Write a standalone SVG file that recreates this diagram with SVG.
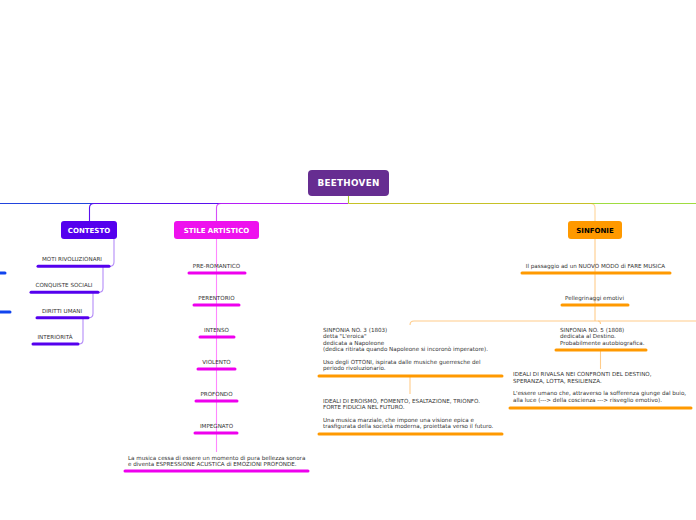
<svg xmlns="http://www.w3.org/2000/svg" width="696" height="520" viewBox="0 0 696 520">
<style>
.t{font-family:"DejaVu Sans",Verdana,sans-serif;font-size:5.6px;fill:#333}
.c{text-anchor:middle}
.h{font-family:"DejaVu Sans",Verdana,sans-serif;font-weight:bold;font-size:7px;text-anchor:middle}
.big{font-size:8.8px;letter-spacing:0.3px}
.ul{fill:none;stroke-width:3;stroke-linecap:round}
.v{stroke:#5500ee}.m{stroke:#ee00ee}.o{stroke:#ff9900}.b{stroke:#1144ee}
.ln{fill:none;stroke-width:1.1}
</style>
<rect width="696" height="520" fill="#fff"/>
<g id="connectors">
<path class="ln" d="M348,203.5 H0" stroke="#2244dd"/>
<path class="ln" d="M348,203.5 H94 Q89.5,203.5 89.5,208 V221" stroke="#5a10ee"/>
<path class="ln" d="M348,203.5 H221 Q216.5,203.5 216.5,208 V221" stroke="#cc22f8" stroke-opacity="0.8"/>
<path class="ln" d="M348.5,203.5 H696" stroke="#a0dc40"/>
<path class="ln" d="M348.5,203.5 H590.5 Q595,203.5 595,208 V221" stroke="#ff9900" stroke-opacity="0.4"/>
<path class="ln" d="M348.5,195 V203.5" stroke="#a8c828"/>
<g stroke="#b48cf8" class="ln">
<path d="M114,238 V262 Q114,266 110,266.3"/>
<path d="M103,266.3 V288 Q103,292.3 99,292.3"/>
<path d="M93,292.3 V313.5 Q93,317.7 89,317.7"/>
<path d="M83,317.7 V340 Q83,344 79,344"/>
</g>
<path class="ln" d="M216.5,239 V452" stroke="#ff88ff"/>
<g stroke="#ffcc8a" class="ln">
<path d="M595,239 V305"/>
<path d="M595,305 V321"/>
<path d="M595,321 H414 Q410,321 410,325"/>
<path d="M595,321 H696"/>
<path d="M598,321 Q600.5,321 600.5,324"/>
<path d="M600.5,351 V369"/>
<path d="M410,377 V394"/>
</g>
</g>
<g id="beethoven">
<rect x="308" y="170" width="81" height="26" rx="4" fill="#662d91"/>
<text class="h big" x="348.5" y="186.2" fill="#fff">BEETHOVEN</text>
</g>
<g id="contesto">
<rect x="61" y="221" width="56" height="18" rx="3" fill="#5500ee"/>
<text class="h" x="89" y="232.5" fill="#fff">CONTESTO</text>
</g>
<g id="moti"><text class="t c" x="72" y="261">MOTI RIVOLUZIONARI</text><path class="ul v" d="M38,266.3 H109"/></g>
<g id="conquiste"><text class="t c" x="64" y="287">CONQUISTE SOCIALI</text><path class="ul v" d="M31,292.3 H98"/></g>
<g id="diritti"><text class="t c" x="62" y="313">DIRITTI UMANI</text><path class="ul v" d="M37,317.7 H88"/></g>
<g id="interiorita"><text class="t c" x="55" y="339">INTERIORITÀ</text><path class="ul v" d="M33,344 H78"/></g>
<g id="offscreen-left"><path class="ul b" d="M-5,273 H5"/><path class="ul b" d="M-5,312 H10"/></g>
<g id="stile">
<rect x="174" y="221" width="85" height="18" rx="3" fill="#ee11ee"/>
<text class="h" x="216.5" y="232.5" fill="#fff">STILE ARTISTICO</text>
</g>
<g id="preromantico"><text class="t c" x="216.5" y="268">PRE-ROMANTICO</text><path class="ul m" d="M189,273 H245"/></g>
<g id="perentorio"><text class="t c" x="216.5" y="300">PERENTORIO</text><path class="ul m" d="M194,305 H239"/></g>
<g id="intenso"><text class="t c" x="216.5" y="332">INTENSO</text><path class="ul m" d="M200,337 H234"/></g>
<g id="violento"><text class="t c" x="216.5" y="364">VIOLENTO</text><path class="ul m" d="M198,369 H235"/></g>
<g id="profondo"><text class="t c" x="216.5" y="396">PROFONDO</text><path class="ul m" d="M196,401 H237"/></g>
<g id="impegnato"><text class="t c" x="216.5" y="428">IMPEGNATO</text><path class="ul m" d="M195,433 H237"/></g>
<g id="musica">
<text class="t" x="128" y="460">La musica cessa di essere un momento di pura bellezza sonora</text>
<text class="t" x="128" y="466.3">e diventa ESPRESSIONE ACUSTICA di EMOZIONI PROFONDE.</text>
<path class="ul m" d="M125,471 H308"/>
</g>
<g id="sinfonie">
<rect x="568" y="221" width="54" height="18" rx="3" fill="#ff9900"/>
<text class="h" x="595" y="232.5" fill="#000">SINFONIE</text>
</g>
<g id="passaggio"><text class="t c" x="595.5" y="268">Il passaggio ad un NUOVO MODO di FARE MUSICA</text><path class="ul o" d="M522,273 H670"/></g>
<g id="pellegrinaggi"><text class="t c" x="594.5" y="300">Pellegrinaggi emotivi</text><path class="ul o" d="M562,305 H628"/></g>
<g id="sinfonia3">
<text class="t" x="323" y="332">SINFONIA NO. 3 (1803)</text>
<text class="t" x="323" y="338.3">detta "L'eroica"</text>
<text class="t" x="323" y="344.6">dedicata a Napoleone</text>
<text class="t" x="323" y="350.9">(dedica ritirata quando Napoleone si incoronò imperatore).</text>
<text class="t" x="323" y="363.5">Uso degli OTTONI, ispirata dalle musiche guerresche del</text>
<text class="t" x="323" y="369.8">periodo rivoluzionario.</text>
<path class="ul o" d="M319,376 H502"/>
</g>
<g id="eroismo">
<text class="t" x="323" y="402.7">IDEALI DI EROISMO, FOMENTO, ESALTAZIONE, TRIONFO.</text>
<text class="t" x="323" y="409">FORTE FIDUCIA NEL FUTURO.</text>
<text class="t" x="323" y="421.6">Una musica marziale, che impone una visione epica e</text>
<text class="t" x="323" y="427.9">trasfigurata della società moderna, proiettata verso il futuro.</text>
<path class="ul o" d="M319,434 H502"/>
</g>
<g id="sinfonia5">
<text class="t" x="560" y="332">SINFONIA NO. 5 (1808)</text>
<text class="t" x="560" y="338.3">dedicata al Destino.</text>
<text class="t" x="560" y="344.6">Probabilmente autobiografica.</text>
<path class="ul o" d="M556,350 H646"/>
</g>
<g id="rivalsa">
<text class="t" x="513" y="376.4">IDEALI DI RIVALSA NEI CONFRONTI DEL DESTINO,</text>
<text class="t" x="513" y="382.7">SPERANZA, LOTTA, RESILIENZA.</text>
<text class="t" x="513" y="395.3">L'essere umano che, attraverso la sofferenza giunge dal buio,</text>
<text class="t" x="513" y="401.6">alla luce (---&gt; della coscienza ---&gt; risveglio emotivo).</text>
<path class="ul o" d="M510,408 H691"/>
</g>
</svg>
